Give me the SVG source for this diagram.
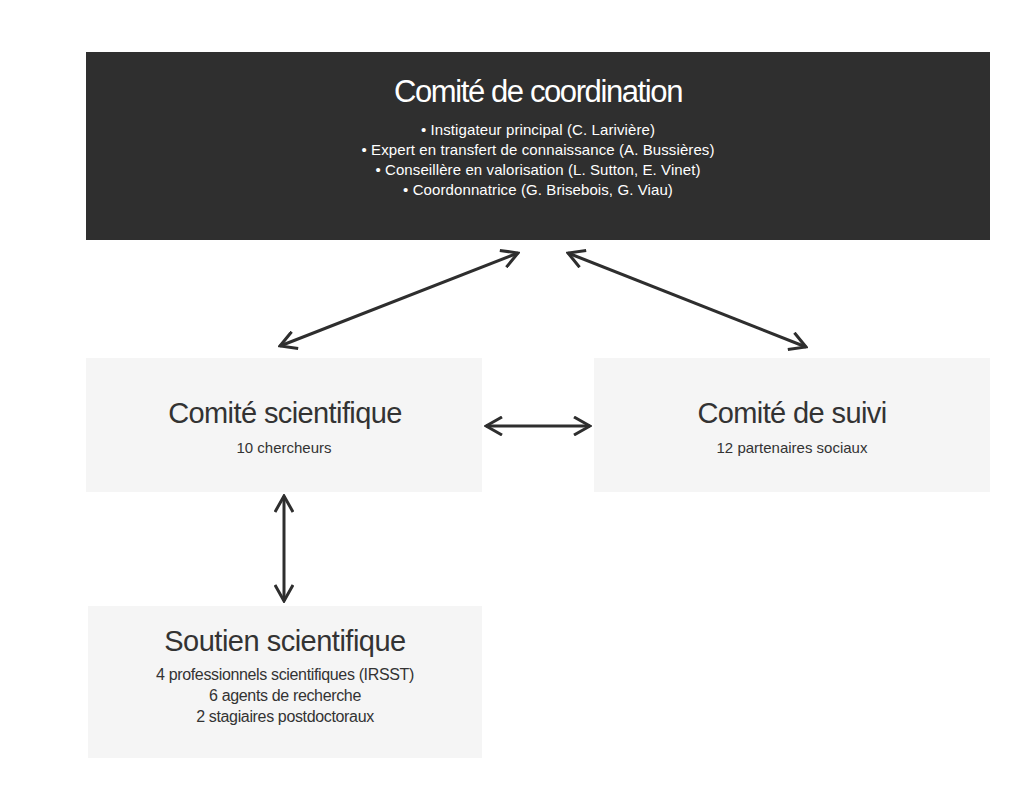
<svg xmlns="http://www.w3.org/2000/svg" width="1024" height="792" viewBox="0 0 1024 792">
<style>
text{font-family:"Liberation Sans",Arial,sans-serif;text-anchor:middle}
.t1{font-size:31px;fill:#ffffff;letter-spacing:-1.4px}
.s1{font-size:15px;fill:#ffffff;letter-spacing:0.1px}
.t2{font-size:29px;fill:#333333;letter-spacing:-0.6px}
.s2{font-size:15px;fill:#333333;letter-spacing:0px}
.t3{font-size:29px;fill:#333333;letter-spacing:-0.5px}
.s3{font-size:16px;fill:#333333;letter-spacing:-0.35px}
.light{fill:#f5f5f5}
.conn{stroke:#2e2e2e;stroke-width:3;fill:none;marker-start:url(#ah);marker-end:url(#ah)}
</style>
<defs>
<marker id="ah" viewBox="0 0 20 20" refX="18" refY="10" markerWidth="20" markerHeight="20" markerUnits="userSpaceOnUse" orient="auto-start-reverse">
<path d="M2,1 L18,10 L2,19" fill="none" stroke="#2e2e2e" stroke-width="3"/>
</marker>
</defs>
<rect width="1024" height="792" fill="#ffffff"/>
<g id="coordination">
<rect x="86" y="52" width="904" height="188" fill="#2f2f2f"/>
<text class="t1" x="538" y="102">Comité de coordination</text>
<text class="s1" x="538" y="135">• Instigateur principal (C. Larivière)</text>
<text class="s1" x="538" y="155">• Expert en transfert de connaissance (A. Bussières)</text>
<text class="s1" x="538" y="175">• Conseillère en valorisation (L. Sutton, E. Vinet)</text>
<text class="s1" x="538" y="195">• Coordonnatrice (G. Brisebois, G. Viau)</text>
</g>
<g id="scientifique">
<rect class="light" x="86" y="358" width="396" height="134"/>
<text class="t2" x="285" y="423">Comité scientifique</text>
<text class="s2" x="284" y="453">10 chercheurs</text>
</g>
<g id="suivi">
<rect class="light" x="594" y="358" width="396" height="134"/>
<text class="t2" x="792" y="423">Comité de suivi</text>
<text class="s2" x="792" y="453">12 partenaires sociaux</text>
</g>
<g id="soutien">
<rect class="light" x="88" y="606" width="394" height="152"/>
<text class="t3" x="285" y="651">Soutien scientifique</text>
<text class="s3" x="285" y="680">4 professionnels scientifiques (IRSST)</text>
<text class="s3" x="285" y="701">6 agents de recherche</text>
<text class="s3" x="285" y="722">2 stagiaires postdoctoraux</text>
</g>
<g id="connectors">
<line class="conn" x1="518" y1="253" x2="280" y2="346"/>
<line class="conn" x1="568" y1="253" x2="806" y2="347"/>
<line class="conn" x1="486" y1="426" x2="590" y2="426"/>
<line class="conn" x1="284" y1="496" x2="284" y2="601"/>
</g>
</svg>
